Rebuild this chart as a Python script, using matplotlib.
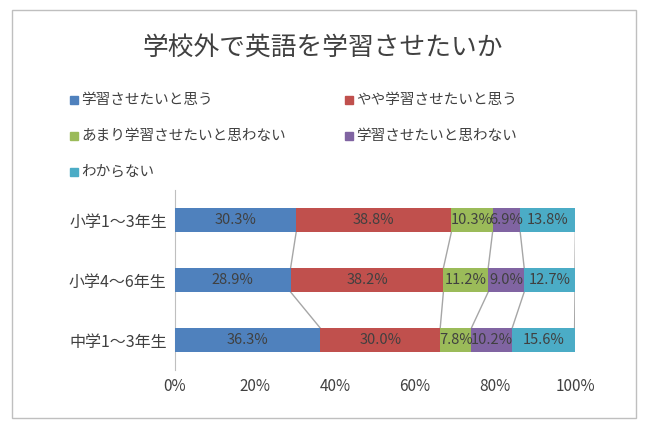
import matplotlib
matplotlib.use('Agg')
import matplotlib.pyplot as plt
from matplotlib.patches import Rectangle
import numpy as np

plt.rcParams['font.family'] = 'Noto Sans CJK JP'

categories = ['小学1〜3年生', '小学4〜6年生', '中学1〜3年生']
series = ['学習させたいと思う', 'やや学習させたいと思う', 'あまり学習させたいと思わない',
          '学習させたいと思わない', 'わからない']
values = [
    [30.3, 28.9, 36.3],
    [38.8, 38.2, 30.0],
    [10.3, 11.2, 7.8],
    [6.9, 9.0, 10.2],
    [13.8, 12.7, 15.6],
]
colors = ['#4F81BD', '#C0504D', '#9BBB59', '#8064A2', '#4BACC6']

fig = plt.figure(figsize=(6.46, 4.36), dpi=100)
fig.patch.set_facecolor('white')
fig.patches.append(Rectangle((12/646, 18/436), 624/646, 408/436, transform=fig.transFigure,
                             fill=False, edgecolor='#bfbfbf', lw=1))

ax = fig.add_axes([175/646, 1 - 370/436, 400/646, 180/436])
y = np.arange(len(categories))
h = 0.4
left = np.zeros(len(categories))
edges = [left.copy()]
for s, vals, c in zip(series, values, colors):
    vals = np.array(vals)
    ax.barh(y, vals / 100, left=left / 100, height=h, color=c, label=s, zorder=3)
    for yi, l, v in zip(y, left, vals):
        ax.text((l + v / 2) / 100, yi, f'{v:.1f}%', ha='center', va='center',
                fontsize=10.5, color='#404040', zorder=5)
    left = left + vals
    edges.append(left.copy())

# series lines
for e in edges[1:]:
    for i in range(len(categories) - 1):
        ax.plot([e[i] / 100, e[i + 1] / 100], [y[i] + h / 2, y[i + 1] - h / 2],
                color='#a6a6a6', lw=1, zorder=2)

ax.set_ylim(2.5, -0.5)
ax.set_xlim(0, 1)
ax.set_yticks(y)
ax.set_yticklabels(categories, fontsize=11.5, color='#404040')
ax.set_xticks(np.linspace(0, 1, 6))
ax.set_xticklabels([f'{int(t)}%' for t in np.linspace(0, 100, 6)], fontsize=11, color='#404040')
for sp in ['top', 'right', 'bottom']:
    ax.spines[sp].set_visible(False)
ax.spines['left'].set_color('#bfbfbf')
ax.tick_params(length=0, pad=6)

fig.text(0.5, 1 - 48/436, '学校外で英語を学習させたいか', ha='center', va='center',
         fontsize=18.5, color='#404040')

# legend
pos = [(70, 100), (345, 100), (70, 136), (345, 136), (70, 172)]
for (px, py), s, c in zip(pos, series, colors):
    fig.patches.append(Rectangle((px/646, 1 - (py + 4)/436), 8/646, 8/436,
                                 transform=fig.transFigure, color=c))
    fig.text((px + 11)/646, 1 - py/436, s, va='center', fontsize=10.5, color='#404040')

fig.savefig('out.png', dpi=100, facecolor='white')
